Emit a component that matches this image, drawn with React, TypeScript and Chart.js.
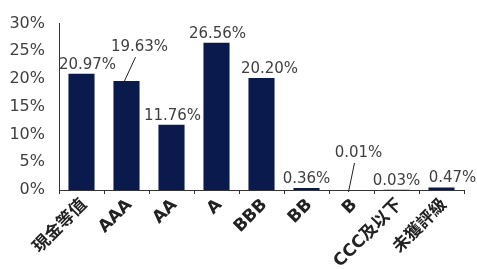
import React, { useEffect, useRef } from "react";
import { Chart, registerables } from "chart.js";

Chart.register(...registerables);

const categories = ["現金等值", "AAA", "AA", "A", "BBB", "BB", "B", "CCC及以下", "未獲評級"];
const values = [20.97, 19.63, 11.76, 26.56, 20.2, 0.36, 0.01, 0.03, 0.47];
const valueLabels = ["20.97%", "19.63%", "11.76%", "26.56%", "20.20%", "0.36%", "0.01%", "0.03%", "0.47%"];
const yTicks = [0, 5, 10, 15, 20, 25, 30];

// label placement tweaks (dx, dy, leader line)
const labelOffsets: [number, number, boolean][] = [
  [6, 0, false],
  [13, -25, true],
  [1, 0, false],
  [1, 0, false],
  [8, 0, false],
  [0, 0, false],
  [7, -28, true],
  [0, 0, false],
  [11, 0, false],
];

const FONT = "'DejaVu Sans', sans-serif";
const CJK = "'DejaVu Sans', 'Noto Sans CJK TC', sans-serif";

const valueLabelPlugin = {
  id: "valueLabels",
  afterDatasetsDraw(chart: any) {
    const ctx = chart.ctx;
    const meta = chart.getDatasetMeta(0);
    ctx.save();
    ctx.font = `15px ${FONT}`;
    ctx.fillStyle = "#404040";
    ctx.textAlign = "center";
    ctx.textBaseline = "alphabetic";
    meta.data.forEach((bar: any, i: number) => {
      const [dx, dy, leader] = labelOffsets[i];
      const x = bar.x + dx;
      const y = bar.y - 5 + dy;
      ctx.fillText(valueLabels[i], x, y);
      if (leader) {
        ctx.strokeStyle = "#222";
        ctx.lineWidth = 1;
        ctx.beginPath();
        ctx.moveTo(x - 4, y + 6);
        ctx.lineTo(bar.x - 3, bar.y + 2);
        ctx.stroke();
      }
    });
    ctx.restore();
  },
};

export default function App() {
  const ref = useRef<HTMLCanvasElement>(null);
  useEffect(() => {
    if (!ref.current) return;
    const chart = new Chart(ref.current, {
      type: "bar",
      data: {
        labels: categories,
        datasets: [
          {
            data: values,
            backgroundColor: "#0b1a4d",
            categoryPercentage: 1,
            barPercentage: 0.58,
          },
        ],
      },
      options: {
        animation: false,
        responsive: false,
        maintainAspectRatio: false,
        layout: { padding: { top: 23, right: 13, left: 0, bottom: 0 } },
        plugins: { legend: { display: false }, tooltip: { enabled: false } },
        scales: {
          x: {
            offset: true,
            grid: {
              display: true,
              offset: true,
              drawOnChartArea: false,
              drawTicks: true,
              tickLength: 4,
              color: "#333",
            },
            border: { display: true, color: "#333", width: 1 },
            ticks: {
              autoSkip: false,
              minRotation: 45,
              maxRotation: 45,
              padding: 1,
              labelOffset: 3,
              color: "#222",
              font: { family: CJK, size: 17, weight: "bold" },
            },
            afterFit(scale: any) {
              scale.height = 79;
            },
          },
          y: {
            min: 0,
            max: 30,
            afterBuildTicks(scale: any) {
              scale.ticks = yTicks.map((v) => ({ value: v }));
            },
            grid: { display: false, drawTicks: false },
            border: { display: true, color: "#333", width: 1 },
            ticks: {
              padding: 14,
              color: "#404040",
              font: { family: FONT, size: 16 },
              callback: (v: any) => `${v}%`,
            },
            afterFit(scale: any) {
              scale.width = 59;
            },
          },
        },
      },
      plugins: [valueLabelPlugin],
    });
    return () => chart.destroy();
  }, []);
  return (
    <div style={{ position: "fixed", left: 0, top: 0, width: 477, height: 269, background: "#fff" }}>
      <canvas ref={ref} width={477} height={269} style={{ width: 477, height: 269 }} />
    </div>
  );
}
